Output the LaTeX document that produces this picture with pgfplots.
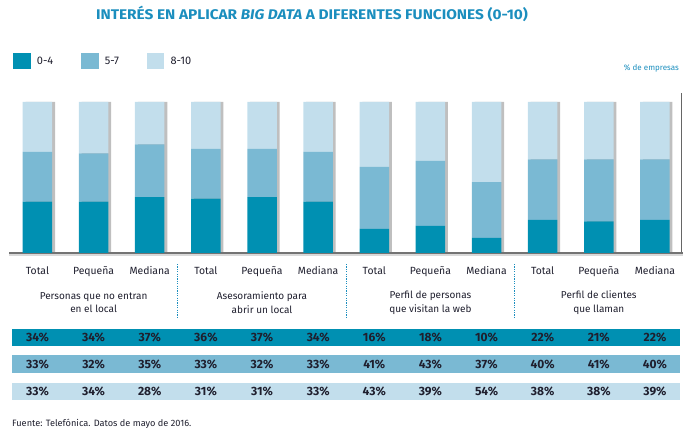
\documentclass[border=0pt]{standalone}
\usepackage{pgfplots}
\pgfplotsset{compat=1.18}
\usepackage{pgfplotstable}
\usepackage{fontspec}
\setmainfont{Fira Sans}
\definecolor{cdark}{HTML}{0090B2}
\definecolor{cmid}{HTML}{7AB9D3}
\definecolor{clight}{HTML}{C2DEEC}
\definecolor{ctitle}{HTML}{1B8EBE}
\definecolor{ctext}{HTML}{1F1F2E}

\pgfplotstableread{
x low mid high
0 34 33 33
1 34 32 34
2 37 35 28
3 36 33 31
4 37 32 31
5 34 33 33
6 16 41 43
7 18 43 39
8 10 37 54
9 22 40 38
10 21 41 38
11 22 40 39
}\data

\pgfplotsset{
  mainax/.style={at={(9.4pt,186pt)}, anchor=south west, scale only axis,
    width=673.6pt, height=151pt, xmin=-0.5, xmax=11.5, ymin=0, ymax=100,
    enlargelimits=false},
  rowax/.style={anchor=south west, scale only axis, width=668.3pt, height=17.3pt,
    xmin=-0.4596, xmax=11.446, ymin=-1, ymax=1, axis line style={draw=none},
    ticks=none, clip=false, enlargelimits=false},
  rowplot/.style={draw=none, mark=none, point meta=explicit symbolic,
    nodes near coords={\pgfplotspointmeta\%},
    nodes near coords style={anchor=center, font=\bfseries\fontsize{12}{14}\selectfont, text=ctext}},
}
\tikzset{
  grouplab/.style={align=center, font=\fontsize{10}{13.3}\selectfont, text=ctext},
  sep/.style={ctitle, line width=1.3pt, dash pattern=on 1.2pt off 1.2pt},
}

\begin{document}
\begin{tikzpicture}
\path[use as bounding box] (0,0) rectangle (700pt,439pt);

% shadows of the bars (full 100 % columns)
\begin{axis}[mainax, hide axis, ybar, bar width=29.5pt, clip=true]
\addplot[fill=black!25, draw=none, bar shift=2.8pt] table[x=x, y expr={min(\thisrow{low}+\thisrow{mid}+\thisrow{high},100)}] {\data};
\end{axis}

% decorations
\begin{axis}[mainax, hide axis, clip=false]
\addplot[draw=none, mark=none, forget plot] table[x=x, y expr=0] {\data};
\draw[black!15, line width=2.5pt] ([yshift=-2.2pt]rel axis cs:0,0) -- ([yshift=-2.2pt]rel axis cs:1,0);
\draw[black!60, line width=1.2pt] ([xshift=-1.5pt]rel axis cs:1,0) -- ([xshift=-1.5pt,yshift=9pt]rel axis cs:1,1);
\node[grouplab] at ([yshift=-49.8pt]axis cs:1,0) {Personas que no entran\\en el local};
\node[grouplab] at ([yshift=-49.8pt]axis cs:4,0) {Asesoramiento para\\abrir un local};
\node[grouplab] at ([yshift=-49.8pt]axis cs:7,0) {Perfil de personas\\que visitan la web};
\node[grouplab] at ([yshift=-49.8pt]axis cs:10,0) {Perfil de clientes\\que llaman};
\draw[sep] ([yshift=-11pt]axis cs:2.5,0) -- ([yshift=-64pt]axis cs:2.5,0);
\draw[sep] ([yshift=-11pt]axis cs:5.5,0) -- ([yshift=-64pt]axis cs:5.5,0);
\draw[sep] ([yshift=-11pt]axis cs:8.5,0) -- ([yshift=-64pt]axis cs:8.5,0);
\end{axis}

\begin{axis}[mainax, clip=true, ybar stacked, bar width=29.5pt,
  axis y line=none, axis x line=bottom,
  x axis line style={-, draw=black!55, line width=1.6pt},
  xtick={0,...,11},
  xticklabels={Total,Pequeña,Mediana,Total,Pequeña,Mediana,Total,Pequeña,Mediana,Total,Pequeña,Mediana},
  major tick length=0pt,
  xticklabel style={anchor=base, yshift=-21.3pt, font=\fontsize{10.4}{12}\selectfont, text=ctext},
  legend style={draw=none, fill=none, at={(0.0058,1.270)}, anchor=west,
    legend columns=-1, inner sep=0pt, outer sep=0pt,
    nodes={inner sep=0pt, font=\fontsize{11}{12}\selectfont, text=ctext},
    /tikz/every odd column/.append style={column sep=6.3pt},
    /tikz/every even column/.append style={column sep=28pt}},
  legend image code/.code={\fill[#1] (0pt,-7.8pt) rectangle (17.3pt,7.8pt);},
]
\addplot[fill=cdark, draw=none] table[x=x, y=low] {\data};
\addlegendentry{0-4}
\addplot[fill=cmid, draw=none] table[x=x, y=mid] {\data};
\addlegendentry{5-7}
% the published columns all reach 100 % (rounded shares may add to 101)
\addplot[fill=clight, draw=none] table[x=x, y expr={min(\thisrow{high},100-\thisrow{low}-\thisrow{mid})}] {\data};
\addlegendentry{8-10}
\end{axis}

% table rows
\begin{axis}[rowax, at={(11.7pt,93pt)}, axis background/.style={fill=cdark}]
\addplot[rowplot] table[x=x, y expr=0, meta=low] {\data};
\end{axis}
\begin{axis}[rowax, at={(11.7pt,66.3pt)}, axis background/.style={fill=cmid}]
\addplot[rowplot] table[x=x, y expr=0, meta=mid] {\data};
\end{axis}
\begin{axis}[rowax, at={(11.7pt,39pt)}, axis background/.style={fill=clight}]
\addplot[rowplot] table[x=x, y expr=0, meta=high] {\data};
\end{axis}

\node[anchor=base, font=\bfseries\fontsize{14}{16}\selectfont, text=ctitle] at (312pt,419pt) {\scalebox{1.1}[1]{INTERÉS EN APLICAR \textit{BIG DATA} A DIFERENTES FUNCIONES (0-10)}};
\node[anchor=base east, font=\fontsize{8}{9}\selectfont, text=ctitle, inner sep=0pt] at (679pt,368pt) {\% de empresas};
\node[anchor=base west, font=\fontsize{9.2}{10}\selectfont, text=ctext, inner sep=0pt] at (12pt,13pt) {Fuente: Telefónica. Datos de mayo de 2016.};
\end{tikzpicture}
\end{document}
